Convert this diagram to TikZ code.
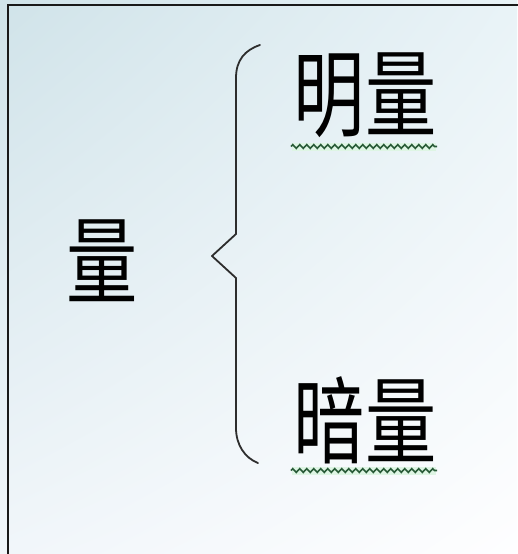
\documentclass[tikz,border=0pt]{standalone}
\usepackage{fontspec}
\newfontfamily\cjk{Noto Sans CJK SC}
\usetikzlibrary{decorations.pathmorphing,shadings}
\definecolor{bgUL}{RGB}{208,227,233}
\definecolor{bgUR}{RGB}{233,243,247}
\definecolor{bgLL}{RGB}{241,246,250}
\definecolor{bgLR}{RGB}{254,254,255}
\definecolor{frameC}{RGB}{25,25,25}
\definecolor{braceC}{RGB}{45,45,45}
\definecolor{squigC}{RGB}{40,90,55}
\definecolor{squigBg}{RGB}{222,245,228}
\tikzset{
  word/.style={inner sep=0pt, anchor=base, font=\cjk\fontsize{95}{95}\selectfont, text=black},
  bracepath/.style={draw=braceC, line width=1.8pt, line join=round, line cap=round},
  squig/.style={draw=squigC, line width=1.7pt, decorate, decoration={zigzag, segment length=7pt, amplitude=1.8pt}},
  frame/.style={draw=frameC, line width=1.6pt}
}
\begin{document}
\begin{tikzpicture}[x=1pt,y=-1pt]
\useasboundingbox (0,0) rectangle (517,554);
\shade[upper left=bgUL, upper right=bgUR, lower left=bgLL, lower right=bgLR] (0,0) rectangle (517,554);
% frame
\draw[frame] (8,556) -- (8,5) -- (519,5);
% words
\node[word] (q) at (102,296) {\scalebox{0.75}[1]{量}};
\node[word] (mq) at (365,129) {\scalebox{0.75}[1]{明量}};
\node[word] (aq) at (365,456) {\scalebox{0.75}[1]{暗量}};
% brace
\coordinate (bt) at (260,45);
\coordinate (bb) at (258,463);
\coordinate (tip) at (212,256);
\draw[bracepath] (bt) .. controls (245,50) and (236,60) .. (236,78)
  -- (236,234) -- (tip) -- (236,278) -- (236,428)
  .. controls (236,445) and (245,458) .. (bb);
% spell-check squiggles
\fill[squigBg] (292,143) rectangle (436,151);
\fill[squigBg] (292,467) rectangle (436,475);
\draw[squig] (291,146.5) -- (437,146.5);
\draw[squig] (291,470.5) -- (437,470.5);
\end{tikzpicture}
\end{document}
